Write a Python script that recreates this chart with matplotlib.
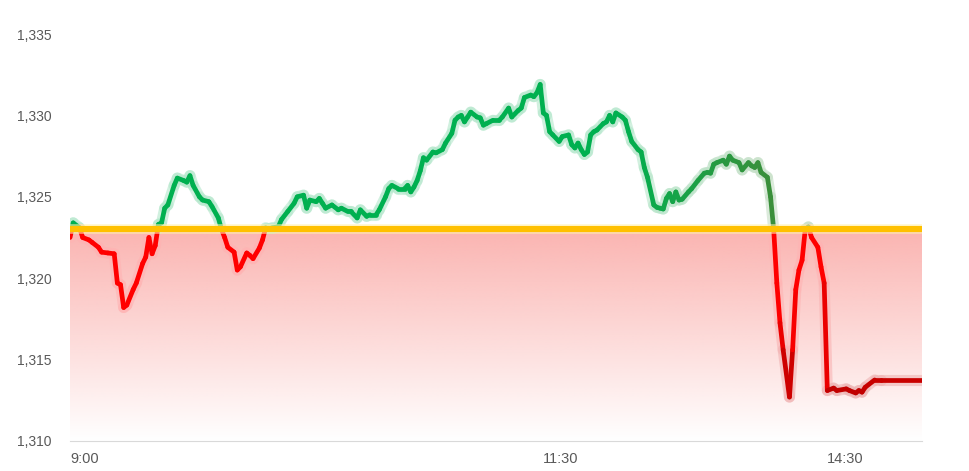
import numpy as np
import matplotlib.pyplot as plt
from matplotlib.collections import LineCollection
from matplotlib.colors import to_rgb
from matplotlib.ticker import FuncFormatter

# minutes of trading time from 9:00 (lunch break removed), price
minutes = [0, 1, 3, 4, 6, 7, 9, 10, 12, 14, 15, 16, 17, 18, 20, 21, 23, 24, 25, 26,
           27, 28, 29, 30, 31, 33, 34, 36, 37, 38, 39, 41, 42, 44, 45, 47, 48, 49, 50, 52,
           53, 54, 56, 57, 58, 60, 61, 62, 64, 66, 67, 69, 71, 72, 74, 75, 76, 78, 79, 80,
           81, 83, 85, 86, 88, 89, 91, 92, 94, 95, 97, 98, 100, 101, 102, 104, 106, 107, 108, 109,
           110, 111, 112, 113, 115, 116, 118, 119, 121, 122, 123, 124, 125, 126, 127, 129, 130, 131, 132, 134,
           136, 137, 139, 140, 142, 143, 144, 146, 147, 148, 149, 150, 151, 152, 153, 155, 156, 158, 159, 160,
           161, 162, 163, 164, 165, 166, 167, 169, 170, 171, 172, 173, 175, 176, 177, 178, 180, 181, 182, 183,
           185, 186, 187, 188, 189, 190, 191, 192, 193, 194, 196, 197, 199, 201, 202, 203, 204, 205, 207, 208,
           209, 210, 212, 213, 215, 216, 217, 218, 219, 221, 222, 223, 224, 225, 226, 228, 229, 230, 231, 232,
           233, 234, 235, 237, 238, 239, 240, 242, 243, 246, 247, 249, 250, 251, 252, 255, 257, 270]
prices = [1322.5, 1323.4, 1323.1, 1322.5, 1322.35, 1322.2, 1321.9, 1321.6, 1321.55, 1321.5,
          1319.7, 1319.6, 1318.2, 1318.35, 1319.3, 1319.7, 1320.9, 1321.3, 1322.5, 1321.5,
          1322.0, 1323.3, 1323.4, 1324.3, 1324.5, 1325.7, 1326.15, 1326.0, 1325.9, 1326.3,
          1325.7, 1325.0, 1324.8, 1324.7, 1324.4, 1323.7, 1323.0, 1322.5, 1321.9, 1321.6,
          1320.5, 1320.7, 1321.55, 1321.4, 1321.2, 1321.85, 1322.35, 1323.1, 1323.1, 1323.15,
          1323.6, 1324.1, 1324.6, 1325.0, 1325.1, 1324.3, 1324.8, 1324.7, 1324.9, 1324.6,
          1324.3, 1324.5, 1324.2, 1324.3, 1324.1, 1324.1, 1323.7, 1324.2, 1323.8, 1323.9,
          1323.9, 1324.2, 1325.0, 1325.5, 1325.7, 1325.5, 1325.5, 1325.7, 1325.3, 1325.6,
          1326.0, 1326.6, 1327.4, 1327.25, 1327.75, 1327.7, 1327.9, 1328.3, 1328.9, 1329.7,
          1329.9, 1330.0, 1329.6, 1329.9, 1330.2, 1329.9, 1329.85, 1329.4, 1329.5, 1329.7,
          1329.7, 1329.9, 1330.45, 1329.9, 1330.3, 1330.45, 1331.1, 1331.25, 1331.15, 1331.4,
          1331.9, 1330.15, 1330.0, 1329.0, 1328.8, 1328.4, 1328.7, 1328.8, 1328.2, 1328.0,
          1328.3, 1327.9, 1327.6, 1327.75, 1328.8, 1329.0, 1329.1, 1329.5, 1329.6, 1330.0,
          1329.6, 1330.15, 1329.9, 1329.7, 1329.0, 1328.4, 1327.9, 1327.75, 1326.8, 1326.2,
          1324.5, 1324.35, 1324.3, 1324.25, 1324.9, 1325.2, 1324.7, 1325.3, 1324.8, 1324.85,
          1325.3, 1325.5, 1326.0, 1326.45, 1326.5, 1326.45, 1327.0, 1327.1, 1327.25, 1327.0,
          1327.5, 1327.25, 1327.1, 1326.65, 1327.1, 1326.9, 1326.8, 1327.1, 1326.5, 1326.2,
          1325.0, 1323.0, 1319.7, 1317.25, 1315.6, 1312.7, 1315.6, 1319.3, 1320.5, 1321.1,
          1323.0, 1323.15, 1322.5, 1321.9, 1320.7, 1319.7, 1313.1, 1313.25, 1313.1, 1313.2,
          1313.1, 1312.95, 1313.1, 1313.0, 1313.3, 1313.75, 1313.75, 1313.75]

base_price = 1323.0
tick_pos = [0, 150, 240]
tick_labels = ['9:00', '11:30', '14:30']

x = np.array(minutes, dtype=float)
y = np.array(prices)

# insert crossing points so each segment sits fully on one side of the base line
xs, ys = [x[0]], [y[0]]
for i in range(1, len(x)):
    a, b = y[i - 1] - base_price, y[i] - base_price
    if a * b < 0:
        t = a / (a - b)
        xs.append(x[i - 1] + t * (x[i] - x[i - 1]))
        ys.append(base_price)
    xs.append(x[i])
    ys.append(y[i])
xs, ys = np.array(xs), np.array(ys)

green_a, green_b = np.array(to_rgb('#00b050')), np.array(to_rgb('#3a8f3a'))
red_a, red_b = np.array(to_rgb('#ff0000')), np.array(to_rgb('#c00000'))
white = np.ones(3)

segs, cols, glow = [], [], []
for i in range(1, len(xs)):
    segs.append([(xs[i - 1], ys[i - 1]), (xs[i], ys[i])])
    mx, my = (xs[i - 1] + xs[i]) / 2, (ys[i - 1] + ys[i]) / 2
    if my >= base_price:
        t = np.clip((mx - 175) / 47, 0, 1)
        c = green_a + t * (green_b - green_a)
    else:
        t = np.clip((1318 - my) / 5, 0, 1)
        c = red_a + t * (red_b - red_a)
    cols.append(c)
    glow.append(c + 0.7 * (white - c))

fig = plt.figure(figsize=(9.7, 4.71), dpi=100)
ax = fig.add_axes([0.0722, 0.0637, 0.8783, 0.8641])

# red gradient below the base line
grad = np.zeros((200, 2, 4))
grad[..., :3] = to_rgb('#fbb4b1')
grad[..., 3] = np.linspace(1.0, 0.0, 200)[:, None]
ax.imshow(grad, extent=(x[0], x[-1], 1310, base_price), aspect='auto',
          origin='upper', zorder=1, interpolation='bilinear')

ax.add_collection(LineCollection(segs, colors=glow, linewidths=8, alpha=0.6,
                                 capstyle='round', joinstyle='round', zorder=2))
ax.add_collection(LineCollection(segs, colors=cols, linewidths=3.4,
                                 capstyle='round', joinstyle='round', zorder=3))

ax.axhline(base_price, color='#fff2b0', lw=7, alpha=0.6, zorder=4)
ax.axhline(base_price, color='#ffc000', lw=4.4, zorder=4)

ax.set_xlim(x[0], x[-1])
ax.set_ylim(1310, 1335)
ax.set_yticks(range(1310, 1336, 5))
ax.yaxis.set_major_formatter(FuncFormatter(lambda v, p: f'{v:,.0f}'))
ax.set_xticks(tick_pos)
ax.set_xticklabels(tick_labels)
for lab in ax.get_xticklabels():
    lab.set_horizontalalignment('left')

for s in ['top', 'right', 'left']:
    ax.spines[s].set_visible(False)
ax.spines['bottom'].set_color('#d9d9d9')
ax.tick_params(axis='both', length=0, colors='#595959', labelsize=10)
ax.tick_params(axis='y', pad=13)
ax.tick_params(axis='x', pad=8, labelsize=10.5)
for lab in ax.get_xticklabels() + ax.get_yticklabels():
    lab.set_family('Liberation Sans')

fig.savefig('out.png', dpi=100)
